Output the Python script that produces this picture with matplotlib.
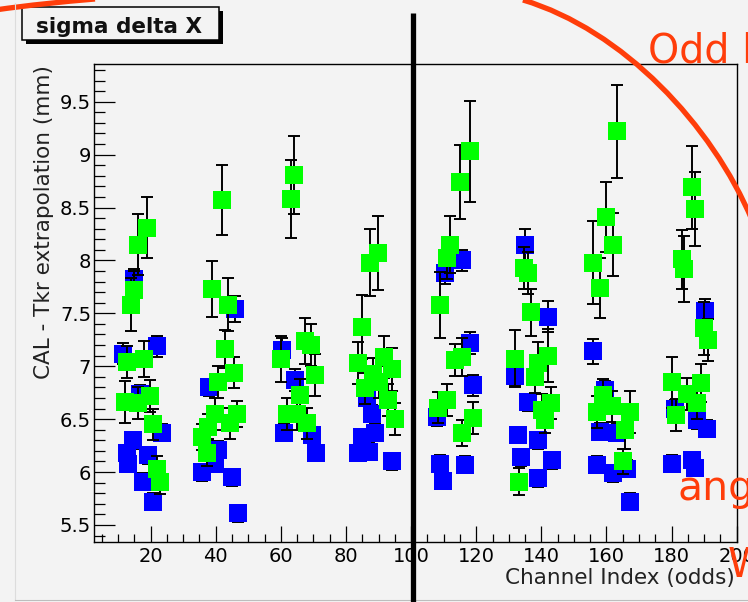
import matplotlib
matplotlib.use('Agg')
import matplotlib.pyplot as plt
from matplotlib.patches import Rectangle, PathPatch
from matplotlib.path import Path
from matplotlib.ticker import MultipleLocator, FuncFormatter

plt.rcParams['font.family'] = ['DejaVu Sans']

# sigma of (CAL - Tkr) for each odd channel, two sets
blue_ch = [15.0, 11.6, 21.8, 16.7, 23.4, 14.7, 12.6, 12.9, 19.3, 17.7, 20.8,
           45.9, 37.9, 40.8, 35.7, 39.7, 44.9, 46.9,
           60.3, 64.4, 60.9, 69.5, 70.9,
           86.5, 87.9, 84.8, 88.9, 83.8, 87.0, 94.0,
           115.5, 110.4, 118.1, 119.1, 107.8, 108.9, 116.5, 109.9,
           135.0, 142.1, 131.9, 136.0, 132.9, 139.0, 133.9, 143.2, 138.9,
           155.9, 159.5, 158.0, 163.1, 157.0, 166.2, 162.1, 167.2,
           190.2, 181.0, 187.7, 190.8, 180.0, 186.2, 187.2]
blue_val = [7.82, 7.12, 7.19, 6.74, 6.37, 6.30, 6.18, 6.08, 6.16, 5.91, 5.72,
            7.54, 6.80, 6.21, 6.00, 6.08, 5.95, 5.61,
            7.15, 6.87, 6.37, 6.35, 6.18,
            6.70, 6.55, 6.33, 6.37, 6.18, 6.19, 6.10,
            8.00, 7.88, 7.22, 6.82, 6.52, 6.08, 6.07, 5.92,
            8.15, 7.47, 6.91, 6.66, 6.35, 6.30, 6.14, 6.11, 5.94,
            7.14, 6.78, 6.38, 6.37, 6.07, 6.03, 5.99, 5.72,
            7.52, 6.60, 6.49, 6.41, 6.08, 6.11, 6.04]
blue_err = [0.10, 0.10, 0.10, 0.08, 0.08, 0.08, 0.08, 0.08, 0.08, 0.08, 0.08,
            0.12, 0.08, 0.08, 0.08, 0.08, 0.08, 0.08,
            0.12, 0.10, 0.08, 0.08, 0.08,
            0.08, 0.08, 0.08, 0.08, 0.08, 0.08, 0.08,
            0.10, 0.10, 0.10, 0.10, 0.08, 0.08, 0.08, 0.08,
            0.15, 0.15, 0.10, 0.08, 0.08, 0.08, 0.08, 0.08, 0.08,
            0.12, 0.08, 0.08, 0.08, 0.08, 0.08, 0.08, 0.08,
            0.12, 0.08, 0.08, 0.08, 0.08, 0.08, 0.08]

green_ch = [19.0, 16.0, 15.0, 13.9, 12.8, 18.0, 12.1, 19.8, 16.2, 20.8, 21.8, 22.9,
            42.0, 38.9, 43.8, 42.8, 45.7, 40.8, 39.7, 46.4, 44.4, 37.7, 35.7, 37.2,
            63.9, 63.1, 67.5, 69.3, 60.1, 70.5, 66.0, 61.9, 65.0, 68.0,
            89.7, 87.4, 84.8, 83.8, 91.7, 94.2, 88.4, 85.8, 90.0, 92.8, 95.0,
            118.1, 115.0, 111.9, 111.1, 108.9, 115.5, 113.5, 110.9, 108.3, 119.1, 115.7,
            134.7, 136.0, 136.8, 131.9, 141.9, 139.0, 138.2, 143.0, 140.1, 141.1, 133.1,
            163.1, 160.0, 162.1, 155.9, 158.0, 159.0, 157.0, 161.6, 167.2, 165.7, 165.0,
            186.2, 187.2, 183.3, 183.9, 190.0, 191.3, 180.0, 189.0, 184.6, 187.7, 181.5]
green_val = [8.31, 8.15, 7.72, 7.58, 7.04, 7.07, 6.66, 6.72, 6.65, 6.45, 6.03, 5.91,
             8.57, 7.73, 7.58, 7.16, 6.94, 6.85, 6.55, 6.55, 6.46, 6.43, 6.33, 6.18,
             8.81, 8.58, 7.24, 7.20, 7.07, 6.92, 6.73, 6.55, 6.55, 6.46,
             8.07, 7.98, 7.37, 7.03, 7.09, 6.97, 6.93, 6.79, 6.85, 6.68, 6.50,
             9.03, 8.74, 8.15, 8.02, 7.58, 7.09, 7.06, 6.68, 6.61, 6.51, 6.37,
             7.93, 7.88, 7.51, 7.07, 7.10, 7.03, 6.90, 6.65, 6.59, 6.49, 5.91,
             9.22, 8.41, 8.15, 7.98, 7.74, 6.73, 6.57, 6.62, 6.57, 6.40, 6.10,
             8.69, 8.49, 8.01, 7.92, 7.36, 7.25, 6.85, 6.84, 6.74, 6.65, 6.54]
green_err = [0.29, 0.29, 0.18, 0.25, 0.15, 0.17, 0.20, 0.15, 0.15, 0.15, 0.12, 0.12,
             0.33, 0.26, 0.25, 0.18, 0.15, 0.15, 0.15, 0.12, 0.15, 0.12, 0.12, 0.12,
             0.37, 0.37, 0.22, 0.20, 0.22, 0.20, 0.15, 0.15, 0.15, 0.15,
             0.35, 0.32, 0.30, 0.20, 0.20, 0.20, 0.15, 0.15, 0.15, 0.15, 0.15,
             0.48, 0.35, 0.27, 0.20, 0.31, 0.18, 0.15, 0.15, 0.15, 0.15, 0.12,
             0.20, 0.20, 0.22, 0.27, 0.25, 0.20, 0.15, 0.15, 0.15, 0.12, 0.13,
             0.44, 0.33, 0.30, 0.39, 0.28, 0.15, 0.15, 0.15, 0.20, 0.18, 0.12,
             0.39, 0.35, 0.28, 0.31, 0.25, 0.20, 0.24, 0.18, 0.15, 0.15, 0.15]

W, H = 748, 602
bg = '#f3f3f3'
red = '#ff3d0a'

fig = plt.figure(figsize=(W / 100, H / 100), dpi=100, facecolor=bg)
ax = fig.add_axes([94 / W, 1 - 541.7 / H, 642.7 / W, 477.7 / H], facecolor=bg)

for ch, val, err, col, z in [(blue_ch, blue_val, blue_err, '#0000ff', 2),
                             (green_ch, green_val, green_err, '#00ff00', 4)]:
    ax.errorbar(ch, val, yerr=err, fmt='none', ecolor='black', elinewidth=1.4,
                capsize=4, capthick=1.4, zorder=z)
    ax.plot(ch, val, 's', color=col, ms=13, mew=0, ls='none', zorder=z + 1)

ax.set_xlim(2.6, 200)
ax.set_ylim(5.342, 9.856)
ax.xaxis.set_major_locator(MultipleLocator(20))
ax.xaxis.set_minor_locator(MultipleLocator(5))
ax.yaxis.set_major_locator(MultipleLocator(0.5))
ax.yaxis.set_minor_locator(MultipleLocator(0.1))
ax.yaxis.set_major_formatter(FuncFormatter(lambda v, p: '%g' % v))
ax.tick_params(which='both', direction='in', top=False, right=False,
               width=0.9, labelsize=14)
ax.tick_params(axis='x', which='major', length=11.5, pad=3.5)
ax.tick_params(axis='x', which='minor', length=6)
ax.tick_params(axis='y', which='major', length=15, pad=2)
ax.tick_params(axis='y', which='minor', length=8)
for s in ax.spines.values():
    s.set_linewidth(1.0)
    s.set_color('black')

# overlay in pixel coordinates
ov = fig.add_axes([0, 0, 1, 1], zorder=10)
ov.set_xlim(0, W)
ov.set_ylim(H, 0)
ov.axis('off')

ov.plot([15, 15], [3, 600], color='#dcdcdc', lw=0.8)
ov.plot([15, W], [600, 600], color='#bdbdbd', lw=0.8)

# title pave with shadow
ov.add_patch(Rectangle((26, 11.3), 197, 32.7, fc='black', ec='none'))
ov.add_patch(Rectangle((22, 7.3), 197, 32.7, fc=bg, ec='black', lw=1.1))
ov.text(119.5, 32.7, 'sigma delta X', ha='center', va='baseline',
        fontsize=15.5, fontweight='bold', color='#111111')

ov.text(44, 65, 'CAL - Tkr extrapolation (mm)', rotation=90, ha='center',
        va='top', fontsize=15.5, color='#222222')
ov.text(735, 578, 'Channel Index (odds)', ha='right', va='center',
        fontsize=15.5, color='#222222')

# divider at channel 100
ov.plot([412.8, 412.8], [13, H], color='black', lw=3.8, solid_capstyle='butt')

# red marks
arc = Path([(523, 0), (623, 30), (712, 125), (752, 220)],
           [Path.MOVETO, Path.CURVE4, Path.CURVE4, Path.CURVE4])
ov.add_patch(PathPatch(arc, fc='none', ec=red, lw=3.8))
arc2 = Path([(-5, 10), (30, 5), (60, 2), (95, -1)],
            [Path.MOVETO, Path.CURVE4, Path.CURVE4, Path.CURVE4])
ov.add_patch(PathPatch(arc2, fc='none', ec=red, lw=3.8))
ov.text(648, 63, 'Odd layers', color=red, fontsize=28.5, ha='left', va='baseline')
ov.text(678, 500, 'angle', color=red, fontsize=29.5, ha='left', va='baseline')
ov.text(728, 577, 'W', color=red, fontsize=29.5, ha='left', va='baseline')

fig.savefig('out.png', dpi=100, facecolor=bg)
